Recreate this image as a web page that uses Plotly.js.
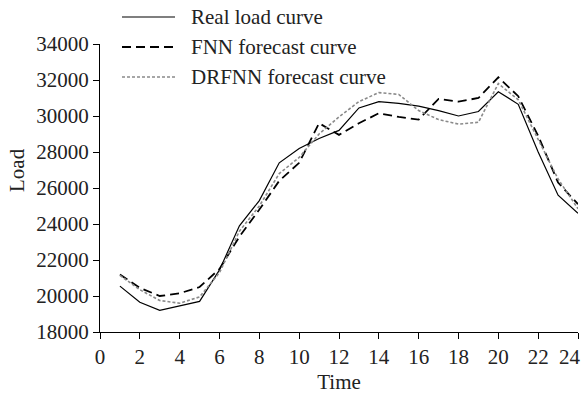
<!DOCTYPE html>
<html>
<head>
<meta charset="utf-8">
<script src="https://cdn.plot.ly/plotly-3.0.1.min.js"></script>
<style>html,body{margin:0;padding:0;background:#fff;}#chart{width:584px;height:396px;}</style>
</head>
<body>
<div id="chart"></div>
<script>
const hours = [1,2,3,4,5,6,7,8,9,10,11,12,13,14,15,16,17,18,19,20,21,22,23,24];
const realLoad = [20550,19650,19200,19450,19700,21450,23900,25300,27400,28200,28750,29200,30450,30800,30700,30550,30300,30000,30250,31350,30650,28000,25600,24600];
const fnnForecast = [21200,20450,20000,20150,20500,21500,23300,24800,26400,27400,29600,28950,29600,30150,29950,29800,30950,30800,31000,32150,31100,28900,26300,25100];
const drfnnForecast = [21150,20350,19750,19600,19950,21300,23600,25000,26800,27700,29000,29950,30800,31300,31200,30300,29800,29550,29650,31800,30900,28700,26500,24850];
const seriesNames = ["Real load curve","FNN forecast curve","DRFNN forecast curve"];
const xTicks = [0,2,4,6,8,10,12,14,16,18,20,22,24];
const yTicks = [18000,20000,22000,24000,26000,28000,30000,32000,34000];

const styles = [
  {color:"#000000", width:1.2, dash:"solid"},
  {color:"#000000", width:1.8, dash:"9px,5px"},
  {color:"#8a8a8a", width:1.6, dash:"3px,2px"}
];
const seriesData = [realLoad, fnnForecast, drfnnForecast];

const traces = seriesData.map((ys,i)=>({
  x: hours, y: ys, type:"scatter", mode:"lines", name: seriesNames[i],
  line: {color: styles[i].color, width: styles[i].width, dash: styles[i].dash},
  showlegend:false
}));

const font = {family:"Liberation Serif, Times New Roman, serif", size:21, color:"#222"};

// manual legend
const L = 100, W = 478, B = 332, H = 288;
const px = p => (p - L)/W;
const py = p => (B - p)/H;
const legendRows = [17, 47, 77];
const shapes = [], annotations = [];
seriesNames.forEach((n,i)=>{
  shapes.push({type:"line", xref:"paper", yref:"paper", x0:px(122), x1:px(175), y0:py(legendRows[i]), y1:py(legendRows[i]),
    line:{color:styles[i].color, width:styles[i].width, dash:styles[i].dash}});
  annotations.push({xref:"paper", yref:"paper", x:px(189), y:py(legendRows[i]), xanchor:"left", yanchor:"middle",
    text:n, showarrow:false, font:font});
});
annotations.push({xref:"paper", yref:"paper", x:px(17), y:py(170), xanchor:"center", yanchor:"middle",
  text:"Load", textangle:-90, showarrow:false, font:font});
// last x tick label, kept inside the page edge
const lastTick = xTicks[xTicks.length-1];
annotations.push({xref:"paper", yref:"paper", x:px(583), y:py(357), xanchor:"right", yanchor:"middle",
  text:String(lastTick), showarrow:false, font:font});

const layout = {
  width:584, height:396,
  margin:{l:100, r:6, t:44, b:64},
  paper_bgcolor:"#fff", plot_bgcolor:"#fff",
  font: font,
  showlegend:false,
  xaxis:{range:[0,24], tickvals:xTicks, ticktext:xTicks.map(v => v===lastTick ? "" : String(v)), ticks:"outside", ticklen:6, tickwidth:1, tickcolor:"#000",
    showline:true, linecolor:"#000", linewidth:1, showgrid:false, zeroline:false,
    title:{text:"Time", font:font, standoff:6}, tickfont:font},
  yaxis:{range:[18000,34000], tickvals:yTicks, ticktext:yTicks.map(String), ticks:"outside", ticklen:6, tickwidth:1, tickcolor:"#000",
    showline:true, linecolor:"#000", linewidth:1, showgrid:false, zeroline:false, tickfont:font},
  shapes: shapes,
  annotations: annotations
};

Plotly.newPlot("chart", traces, layout, {displayModeBar:false, staticPlot:true});
</script>
</body>
</html>
